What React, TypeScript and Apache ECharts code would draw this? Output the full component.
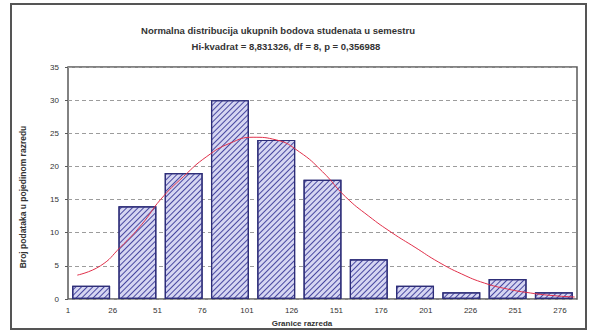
import React, { useEffect, useRef } from "react";
import * as echarts from "echarts";

// Class counts of the histogram (one bar per class)
const classNames = ["1-26", "26-51", "51-76", "76-101", "101-126", "126-151", "151-176", "176-201", "201-226", "226-251", "251-276"];
const classCounts = [2, 14, 19, 30, 24, 18, 6, 2, 1, 3, 1];

// Class boundary tick labels
const boundaryLabels = ["1", "26", "51", "76", "101", "126", "151", "176", "201", "226", "251", "276"];

// Fitted normal curve, x in class units (0 = left edge of first class)
const curveX = [0.2, 0.7, 1.13, 1.6, 2.0, 2.5, 3.0, 3.5, 4.0, 4.5, 5.0, 5.5, 6.0, 6.5, 7.0, 7.5, 8.0, 8.5, 9.0, 9.5, 10.0, 10.5, 10.95];
const curveY = [3.6, 5.0, 7.8, 11.3, 15.0, 18.5, 21.5, 23.5, 24.4, 24.0, 22.2, 19.2, 15.4, 12.5, 10.0, 7.8, 5.6, 3.8, 2.4, 1.5, 0.9, 0.5, 0.3];

// Y axis ticks
const yMin = 0;
const yMax = 35;
const yStep = 5;

const titleLine1 = "Normalna distribucija ukupnih bodova studenata u semestru";
const titleLine2 = "Hi-kvadrat = 8,831326, df = 8, p = 0,356988";
const yTitle = "Broj podataka u pojedinom razredu";
const xTitle = "Granice razreda";

export default function App() {
  const ref = useRef<HTMLDivElement>(null);

  useEffect(() => {
    document.body.style.margin = "0";
    if (!ref.current) return;
    const chart = echarts.init(ref.current, undefined, { renderer: "svg" });
    const font = "Arial, 'Liberation Sans', sans-serif";
    const labelSpan = 11.38;

    chart.setOption({
      animation: false,
      backgroundColor: "#ffffff",
      grid: {
        left: 68,
        right: 12,
        top: 67,
        bottom: 34,
        show: true,
        borderColor: "#5a5a5a",
        borderWidth: 1.5,
        backgroundColor: "transparent",
      },
      xAxis: [
        {
          type: "category",
          data: classNames,
          axisLine: { show: false },
          axisTick: { show: false },
          axisLabel: { show: false },
        },
        {
          type: "value",
          min: 0,
          max: classNames.length,
          show: false,
        },
        {
          type: "value",
          min: 0,
          max: labelSpan,
          interval: 1,
          position: "bottom",
          axisLine: { show: false },
          axisTick: { show: false },
          splitLine: { show: false },
          axisLabel: {
            color: "#333",
            fontSize: 8,
            fontFamily: font,
            margin: 7,
            showMaxLabel: false,
            formatter: (v: number) => {
              const r = Math.round(v);
              return Math.abs(v - r) < 1e-6 && boundaryLabels[r] !== undefined ? boundaryLabels[r] : "";
            },
          },
        },
      ],
      yAxis: {
        type: "value",
        min: yMin,
        max: yMax,
        interval: yStep,
        axisLine: { show: false },
        axisTick: { show: true, length: 3, lineStyle: { color: "#5a5a5a" } },
        axisLabel: { color: "#333", fontSize: 8, fontFamily: font, margin: 9 },
        splitLine: {
          show: true,
          lineStyle: { color: "#9c9c9c", type: [4, 3], width: 1 },
        },
      },
      series: [
        {
          type: "bar",
          xAxisIndex: 0,
          data: classCounts,
          barCategoryGap: "18%",
          itemStyle: {
            color: "#d6d6f2",
            borderColor: "#2e2e78",
            borderWidth: 1.2,
            decal: {
              symbol: "rect",
              symbolSize: 1,
              color: "#4848a0",
              dashArrayX: [1, 0],
              dashArrayY: [1, 3],
              rotation: -Math.PI / 4,
            },
          },
        },
        {
          type: "line",
          xAxisIndex: 1,
          data: curveX.map((x, i) => [x, curveY[i]]),
          smooth: true,
          showSymbol: false,
          lineStyle: { color: "#e0304a", width: 1 },
          z: 5,
        },
      ],
      graphic: [
        {
          type: "rect",
          shape: { x: 11, y: 4, width: 575, height: 325 },
          style: { fill: "none", stroke: "#555", lineWidth: 2 },
          silent: true,
        },
        {
          type: "text",
          x: 278,
          y: 30,
          style: { text: titleLine1, fill: "#333", fontSize: 9.5, fontWeight: "bold", fontFamily: font, align: "center", verticalAlign: "middle" },
        },
        {
          type: "text",
          x: 286,
          y: 46,
          style: { text: titleLine2, fill: "#333", fontSize: 9.5, fontWeight: "bold", fontFamily: font, align: "center", verticalAlign: "middle" },
        },
        {
          type: "text",
          x: 23,
          y: 197,
          rotation: Math.PI / 2,
          style: { text: yTitle, fill: "#333", fontSize: 8.5, fontWeight: "bold", fontFamily: font, align: "center", verticalAlign: "middle" },
        },
        {
          type: "text",
          x: 302,
          y: 323,
          style: { text: xTitle, fill: "#333", fontSize: 8, fontWeight: "bold", fontFamily: font, align: "center", verticalAlign: "middle" },
        },
      ],
    });

    return () => chart.dispose();
  }, []);

  return <div ref={ref} style={{ width: 589, height: 333 }} />;
}
